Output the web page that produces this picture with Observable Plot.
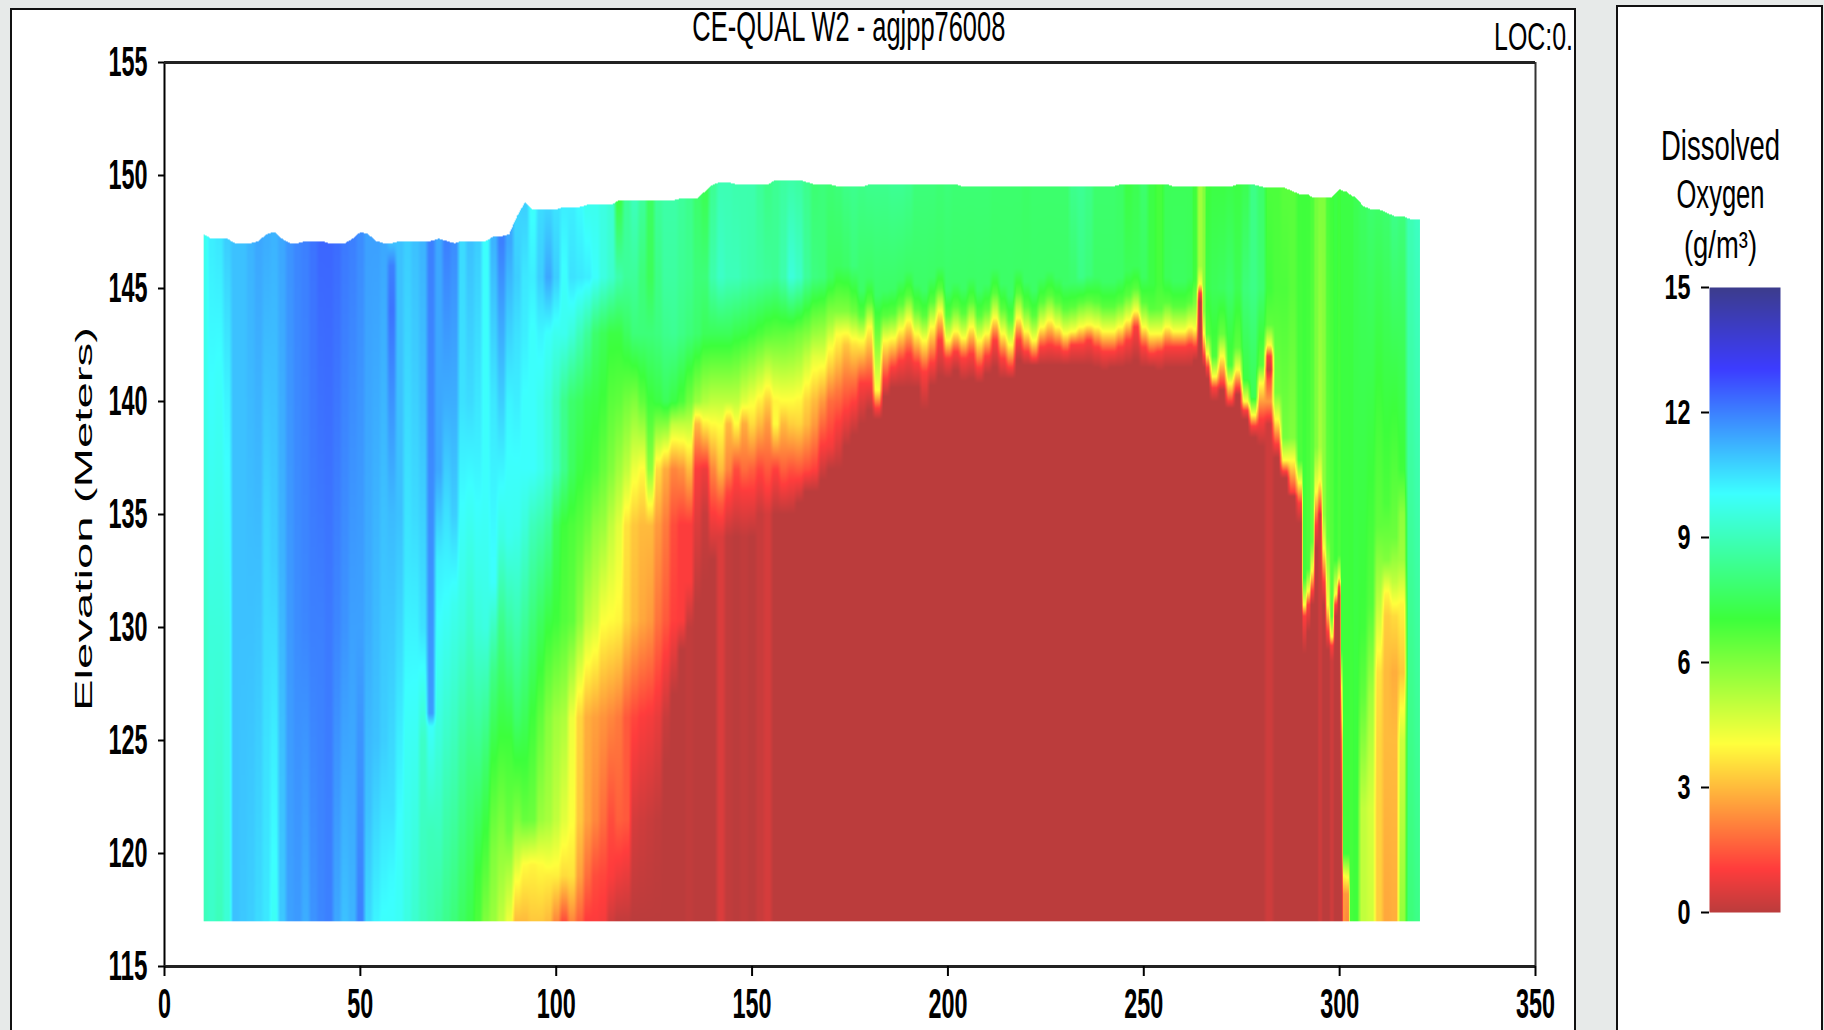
<!DOCTYPE html>
<html>
<head>
<meta charset="utf-8">
<script src="https://cdn.jsdelivr.net/npm/d3@7"></script>
<script src="https://cdn.jsdelivr.net/npm/@observablehq/plot@0.6"></script>
<style>
html,body{margin:0;padding:0;width:1824px;height:1030px;overflow:hidden;background:#e7eae9}
.panel{position:absolute;background:#fff;border:2px solid #111;border-bottom:none;box-sizing:border-box}
#main{left:10px;top:8px;width:1566px;height:1022px}
#side{left:1616px;top:5px;width:207px;height:1025px}
#chart svg,#legend svg{position:absolute;left:0;top:0;background:transparent}
</style>
</head>
<body>
<div class="panel" id="main"></div>
<div class="panel" id="side"></div>
<div id="chart"></div>
<div id="legend"></div>
<script>
// Each row: river km, water-surface elevation, then (elevation, dissolved oxygen) pairs
const blueReach = [
[10,147.4,117,9,130,9.2,140,9.7,147.4,9.8],
[12,147.2,117,9.2,130,9.5,140,10,147,10.3],
[14,147.2,117,9,130,9.5,140,9.9,147,10.4],
[16,147.2,117,9.4,130,9.6,140,10.2,147,10.8],
[18,147,117,11,147,11],
[20,147,117,10.9,130,11,147,11],
[22,147,117,10.8,130,11,147,11.2],
[24,147.1,117,10.6,125,10.8,135,11.1,147,11.4],
[26,147.4,117,10.4,125,10.5,135,10.7,147,11.3],
[28,147.5,117,9.9,121,10.1,125,10.3,133,10.8,147,11.2],
[30,147.2,117,10.9,125,11,133,11.2,147,11.4],
[32,147,117,11.5,130,11.6,147,11.7],
[34,147,117,11.6,130,11.8,147,11.9],
[36,147.1,117,11.3,130,11.9,147,12],
[38,147.1,117,11.7,130,12,147,12.2],
[40,147.1,117,11.9,130,12,147,12.4],
[42,147,117,12,130,12.1,147,12.4],
[44,147,117,11.4,130,11.9,147,12.3],
[46,147,117,11,130,11.7,147,12.1],
[48,147.2,117,11.2,130,11.5,147,12],
[50,147.5,117,12,122,11.8,130,11.5,147,11.8],
[52,147.4,117,10.6,122,11,130,11.3,147,11.5],
[54,147.1,117,10.2,125,11,135,11.2,147,11.5],
[56,147,117,10,125,10.8,135,11,147,11.4],
[58,147,117,10,119,10.1,122,10.5,135,11.1,144,12.2,146,12,147,11],
[60,147.1,117,9.9,121,10,135,11,147,11],
[62,147.1,117,9.6,125,9.9,133,10.4,147,10.8],
[64,147.1,117,9.3,127,10,135,10.6,147,11],
[66,147.1,117,9,125,9.2,130,10.5,140,11,147,11.2],
[68,147.1,117,8.8,121,9,125.6,10,126.2,11.6,135,11.8,147,12],
[70,147.2,117,8.6,125,9.5,133,10.3,137,11.4,147,11.4],
[72,147.1,117,8.3,122,8.8,128,9.6,135,10.5,140,11.3,147,12],
[74,147,117,8,125,9,131,9.8,135,10.8,140,11.3,147,11.8],
[76,147.1,117,7.6,125,8.6,130,9.5,136,10.1,140,10.5,147,10.6],
[78,147.1,117,7.3,124,8.2,130,9.2,136,10,140,10.6,147,11],
[80,147.1,117,6.8,119,7,124,8.2,130,9.5,138,10.3,147,10.8],
[82,147.1,117,6,120,6.8,124,7.8,130,9.6,136,10,147,10],
[84,147.3,117,5.6,120,6,124,7,128,8.2,132,10,140,10.4,147,11.2],
[86,147.3,117,5,120,5.7,125,7,130,8.2,134,9.6,140,10.8,147,12],
[88,147.4,117,4.3,119,5.2,121,6.3,125,7,128,8,134,9.8,140,10.2,147,11.4]
];
const transitionReach = [
[90,148.2,117,3,119,4.2,121.5,6,126,7.8,130.3,8.9,134.5,9.8,137,10,140,10.3,143,10.5,145.5,10.8,148.2,10.7],
[92,148.8,117,3,119.5,4,121.5,6.4,126,7.5,130.3,8.5,134.5,9.5,137,10,140,10,143,10.3,145.5,10.4,148.8,10.8],
[94,148.5,117,3.2,119.5,3.9,121.5,6.3,126,7,130.3,8,134.5,9,137,10,140,10,143,10,145.5,10.3,148.5,10],
[96,148.5,117,3.2,119.5,4,121.5,5.6,126,6.5,130.3,7.6,134.5,8.8,137,9.8,140,9.8,143,10.2,145.5,10.8,148.5,10.6],
[98,148.5,117,3,119,3.8,121.5,5.4,126,5.9,130.3,7.2,134.5,8.5,137,9.5,140,9.5,143,10,145.5,11.4,148.5,10.7],
[100,148.5,117,2.2,119,3.8,121.5,5,126,5.5,130.3,7,134.5,7.5,137,9,140,9,143,9.8,145.5,10.8,148.5,10.5],
[102,148.6,117,1.3,119,3.5,121.5,4.5,126,5.3,130.3,6.7,134.5,7,137,8.3,140,8.3,143,9.8,145.5,10,148.6,10.3],
[104,148.6,117,2.2,119,3.6,121.5,4.1,126,4.3,130.3,6.5,134.5,6.8,137,7.6,140,7.8,143,9.5,145.5,10.5,148.6,10.3],
[106,148.6,117,1.6,119,2.6,121.5,3.2,126,3.4,130.3,5.8,134.5,6.6,137,7.2,140,7.6,143,9,145.5,10.4,148.6,10.1],
[108,148.7,117,1,119,1.8,121.5,2.6,126,2.8,130.3,5,134.5,6.3,137,7,140,7.3,143,8.5,145.5,10.3,148.7,9.8],
[110,148.7,117,1,119,1.3,121.5,2.2,126,2.6,130.3,4.7,134.5,5.8,137,6.8,140,7.2,143,7.8,145.5,10,148.7,9.8],
[112,148.7,117,0.9,119,1.2,121.5,1.8,126,2.4,130.3,4.1,134.5,5.6,137,6.4,140,7,143,7.5,145.5,9.6,148.7,9.6],
[114,148.7,117,0.3,119,1,121.5,1.3,126,2.2,130.3,4,134.5,5,137,6,140,6.6,143,7.2,145.5,9.3,148.7,9.4],
[116,148.9,117,0.1,119,0.8,121.5,1.6,126,2,130.3,3.9,134.5,4.5,137,5.5,140,6.5,143,7.2,145.5,8.8,148.9,7.2],
[118,148.9,117,0.1,119,0.7,121.5,1.5,126,1.5,130.3,3.4,134.5,3.6,137,5,140,6.2,143,7.6,145.5,8.5,148.9,8.5],
[120,148.9,117,0,121.5,0.4,126,1.2,130.3,3,134.5,3.2,137,4.3,140,6,143,8,145.5,8.5,148.9,9],
[122,148.9,117,0,121.5,0.3,126,1,130.3,2.7,134.5,3,137,4,140,6.5,143,8,145.5,8,148.9,8.5],
[124,148.9,117,0,121.5,0.2,126,0.9,130.3,2.5,134.5,3,137,5.8,140,7,143,8,145.5,7.5,148.9,7.6],
[126,148.9,117,0,121.5,0.1,126,0.7,130.3,1.9,134.5,2.5,137,3.5,140,7.2,143,8.1,145.5,8.2,148.9,8.5],
[128,148.9,124,0,126,0.2,130.3,1.5,134.5,2,137,2.8,140,7.5,143,8.3,145.5,8.6,148.9,8.7],
[130,148.9,127,0,130.3,1.1,134.5,1.3,137,2.2,139,5,140,7.2,143,8.4,145.5,8.6,148.9,8.7],
[132,149,129,0,130.3,1,134.5,1,137,2.4,139,5,140,6.8,143,8.2,145.5,8.4,149,8.5],
[134,149,130,0.1,132,1,134.5,1,137,3,139,5,140,6.2,143,8,145.5,8.3,149,8.3],
[136,149,131,0,134.5,0.5,137,1,139,3,140,5.6,143,7.8,145.5,8,149,7.8],
[138,149.3,132,0,135,0.2,137,0.8,139,3.8,140,5.2,143,7.5,145.5,8,149.3,7.4],
[140,149.6,133,0,135,1,137,2.2,139,4,140,5,143,7.5,145.5,8.8,149.6,8.4],
[142,149.7,134,0.5,135.5,1.5,137,3,139,4.1,140,5,143,7.5,145.5,9.2,149.7,8.9],
[144,149.7,134,0.1,136,1.2,137,2.2,139,3,140,5,143,7.5,145.5,9,149.7,8.9],
[146,149.6,134,0,136,0.9,137,1.3,139,4,140,5,143,7.3,145.5,9,149.6,8.8],
[148,149.6,134,0.1,136,1,137,1.8,139,2.8,140,4.5,143,7.2,145.5,8.8,149.6,8.8],
[150,149.6,134,0,136,1,137,1.6,139,3.5,140,4.2,143,7,145.5,8.7,149.6,8.8],
[152,149.6,135,0.2,137,1.2,139,3,140,3.8,143,6.8,145.5,8.6,149.6,8.5],
[154,149.6,135,0.4,136,1,137,1.5,139,2.5,140,3.3,143,6.6,145.5,8.5,149.6,8.2],
[156,149.8,135,0,137,1.1,139,4,140,3.9,143,6.5,145.5,8.4,149.8,8.4],
[158,149.8,135,0,137,1.6,139,3,140,4,143,6.5,145.5,8.8,149.8,8.6],
[160,149.8,135,0,137,1.4,139,3.3,140,4,143,6.4,145.5,9.5,149.8,8.7],
[162,149.8,135.5,0,137,1.5,139,3.4,140,3.9,143,6.2,145.5,9.2,149.8,8.6],
[164,149.7,136,0,137,1.3,139,3,140,3.4,142,5,143,6,145.5,8.5,149.7,8.3],
[166,149.6,136,0,137,1.1,139,2.5,140,3,142,4.5,143,5.6,145.5,8.1,149.6,7.9],
[168,149.6,136.5,0,138,1,140,2.5,141.5,4,143,5.5,145.5,8,149.6,8],
[170,149.6,137,0,138,0.9,140,1.8,141.5,3.3,142.5,4.2,143.5,5.5,145.5,7.6,149.6,7.9],
[172,149.5,137,0,139,1,140.5,2,142,3.3,143,4.1,144,6,146,7.6,149.5,8],
[174,149.5,138,0,139.5,1,141,2,142.5,3.2,143,4,144,6,146,7.7,149.5,8.2],
[176,149.5,138.5,0,140,1.1,141,2,142.5,3.6,143,4.4,144,6.3,146,8,149.5,8.3]
];
const anoxicReach = [
[178,149.5,139,0,140.8,1.05,142.7,4.05,143.8,6.6,144.9,7.7,149.5,8.2],
[180,149.6,139.6,0,140.8,1.05,143.3,4.05,144.4,6.6,145.5,7.7,149.6,8.3],
[182,149.6,139.2,0,139.7,1.05,140.5,4.05,143,6.3,144.7,7.7,149.6,8.3],
[184,149.6,140.2,0,141,1.05,142.7,4.05,143.8,6.6,144.9,7.7,149.6,8.3],
[186,149.6,140.6,0,141.5,1.05,142.8,4.05,143.9,6.6,145,7.7,149.6,8.4],
[188,149.6,140.6,0,141.8,1.05,143.2,4.05,144.3,6.6,145.4,7.7,149.6,8.4],
[190,149.6,140.6,0,142.1,1.05,143.6,4.05,144.7,6.6,145.8,7.7,149.6,8.3],
[192,149.6,140.6,0,141.7,1.05,143,4.05,144.1,6.6,145.2,7.7,149.6,8],
[194,149.6,139.6,0,141.3,1.05,142.7,4.05,143.8,6.6,144.9,7.7,149.6,8],
[196,149.6,140.7,0,141.7,1.05,143.3,4.05,144.4,6.6,145.5,7.7,149.6,8],
[198,149.6,141.1,0,142.7,1.05,144,4.05,145,6.6,146,7.7,149.6,7.9],
[200,149.6,141,0,141.9,1.05,142.7,4.05,143.8,6.6,144.9,7.7,149.6,8],
[202,149.6,141.35,0,142.2,1.05,143.1,4.05,144.2,6.6,145.3,7.7,149.6,7.9],
[204,149.5,140.9,0,141.9,1.05,142.8,4.05,143.9,6.6,145,7.7,149.5,7.9],
[206,149.5,141,0,142.1,1.05,143.3,4.05,144.4,6.6,145.5,7.7,149.5,7.9],
[208,149.5,140.8,0,141.5,1.05,142.7,4.05,143.8,6.6,144.9,7.7,149.5,7.9],
[210,149.5,141.2,0,142,1.05,143,4.05,144.1,6.6,145.2,7.7,149.5,7.9],
[212,149.5,141.5,0,142.7,1.05,143.7,4.05,144.8,6.6,145.9,7.7,149.5,7.8],
[214,149.5,141,0,141.9,1.05,143,4.05,144.1,6.6,145.2,7.7,149.5,7.8],
[216,149.5,141,0,141.5,1.05,142.5,4.05,143.6,6.6,144.7,7.7,149.5,7.8],
[218,149.5,141.8,0,142.7,1.05,143.7,4.05,144.8,6.6,145.9,7.7,149.5,7.8],
[220,149.5,141.6,0,142.2,1.05,143.1,4.05,144.2,6.6,145.3,7.7,149.5,7.7],
[222,149.5,141.6,0,141.9,1.05,142.7,4.05,143.8,6.6,144.9,7.7,149.5,7.8],
[224,149.5,141.6,0,142.4,1.05,143.3,4.05,144.4,6.6,145.5,7.7,149.5,7.8],
[226,149.5,141.6,0,142.5,1.05,143.6,4.05,144.7,6.6,145.8,7.7,149.5,7.8],
[228,149.5,141.6,0,142.4,1.05,143.3,4.05,144.4,6.6,145.5,7.7,149.5,7.8],
[230,149.5,141.6,0,142.2,1.05,143,4.05,144.1,6.6,145.2,7.7,149.5,7.8],
[232,149.5,141.6,0,142.5,1.05,143.1,4.05,144.2,6.6,145.3,7.8,149.5,8.3],
[234,149.5,141.6,0,142.5,1.05,143.3,4.05,144.4,6.6,145.5,8.2,149.5,8.4],
[236,149.5,141.6,0,142.7,1.05,143.4,4.05,144.5,6.6,145.6,8,149.5,8.2],
[238,149.5,141.5,0,142.4,1.05,143.3,4.05,144.4,6.6,145.5,7.7,149.5,7.8],
[240,149.5,141.35,0,142.2,1.05,143.1,4.05,144.2,6.6,145.3,7.7,149.5,7.8],
[242,149.5,141.5,0,142.2,1.05,143.1,4.05,144.2,6.6,145.3,7.7,149.5,7.8],
[244,149.6,141.5,0,142.4,1.05,143.3,4.05,144.4,6.6,145.5,7.7,149.6,7.7],
[246,149.6,141.6,0,142.7,1.05,143.6,4.05,144.7,6.6,145.8,7.5,149.6,7.2],
[248,149.6,141.8,0,143.3,1.05,144,4.05,145,6.6,146,7.5,149.6,7.4],
[250,149.6,141.5,0,142.4,1.05,143.3,4.05,144.4,6.6,145.5,7.6,149.6,7.8],
[252,149.6,141.5,0,142.1,1.05,143,4.05,144.1,6.6,145.2,7.2,149.6,7.2],
[254,149.6,141.35,0,142.2,1.05,143,4.05,144.1,6.5,145.2,6.9,149.6,6.9],
[256,149.6,141.5,0,142.4,1.05,143.3,4.05,144.4,6.6,145.5,7.5,149.6,7.5],
[258,149.5,141.5,0,142.4,1.05,143.1,4.05,144.2,6.6,145.3,7.6,149.5,7.5],
[260,149.5,141.5,0,142.4,1.05,143.1,4.05,144.2,6.6,145.3,7.6,149.5,7.5],
[262,149.5,141.5,0,142.5,1.05,143.3,4.05,144.4,6.6,145.5,7.5,149.5,7.5],
[263,149.5,141.8,0,142.4,1.05,143.2,4.05,144.3,6,145.4,7,149.5,7],
[264.4,149.5,144.4,0,144.8,1.05,145.2,4.05,146,5.5,149.5,5.5],
[265.5,149.5,141.5,0,142,1.05,143,4.05,144,5.8,149.5,6]
];
const downstreamReach = [
[266,149.5,141,0,141.5,1.05,142.1,4.05,143,6.6,145,7.3,149.5,7],
[268,149.5,140,0,140.6,1.05,141.1,4.05,142,6.8,145,7.5,149.5,7.2],
[270,149.5,140.5,0,140.8,1.05,142,4.05,143,6.4,145,7.6,149.5,7.2],
[272,149.5,139.7,0,140,1.05,140.8,4.05,141.6,6.8,145,7.8,149.5,7.3],
[274,149.6,140.3,0,140.6,1.05,141.4,4.05,142.4,6.5,145,7.4,149.6,7.2],
[276,149.6,139.2,0,139.6,1.05,140,4.05,141,7.2,145,8,149.6,7.4],
[278,149.6,138.4,0,138.9,1.05,139.4,4.05,140.2,7.4,145,8.2,149.6,8.2],
[280,149.5,138,0,139.2,1.05,140.8,4.05,141.6,6.6,145,7.9,149.5,7.8],
[282,149.45,139,0.3,140,2.5,141,1.3,141.4,0.3,142,1.05,142.5,4.05,143.4,6.5,145,7,149.45,6.8],
[284,149.45,137.5,0,138.1,1.05,139.2,4.05,140.4,6.2,145,6.8,149.45,6.8],
[286,149.45,136.6,0,136.9,1.05,137.4,4.05,138.4,6.2,145,6.8,149.45,6.6],
[288,149.3,135.8,0,136,1.05,137.4,4.05,138.4,6,145,6.6,149.3,6.6],
[290,149.15,134.6,0,135.5,1.05,136.4,4.05,137.4,6.8,149.15,7],
[291,149.15,128.8,0,130.5,1.05,131,4.05,132.2,7,149.15,7],
[292,149.15,129.8,0,131,1.05,131.6,4.05,132.6,6.8,149.15,7],
[293,149.04,131,0,131.6,1.05,132.5,4.05,133.8,6.5,149.04,6.8],
[294,149.04,133.5,0,134.5,1.05,136,4.05,138,6,149.04,6.2],
[295,149.04,135,0.3,135.2,1.05,136.5,4.05,138,5.4,149.04,6],
[296,149.04,131,0,132,1.05,133.5,4.05,135,5.8,149.04,6],
[297,149.04,129,0,129.8,1.05,131,4.05,134,6.5,149.04,6.8],
[298,149.04,128.5,0.3,129.2,1.05,129.6,4.05,130.5,6.6,149.04,7],
[299,149.2,130.5,0,131,1.05,131.5,4.05,133,7,149.2,7.2],
[300,149.4,131.4,0,131.8,1.05,132.2,4.05,133.2,6.8,149.4,7],
[300.5,149.35,117,0,122,0.2,125,1.5,127.3,4,129,7,149.35,7.2],
[301,149.3,117,2.4,118.2,2.5,119,4,120,7,149.3,7.2],
[302,149.26,117,2.2,118.2,2.5,119,4.2,120,7,149.26,7.2],
[303,149.1,117,6.9,149.1,7.2],
[304,149.04,117,7,149.04,7.4],
[306,148.65,117,5,122,5,127,6.5,130,7,148.65,7.6],
[308,148.5,117,4.8,122,4.7,127,5.5,131,6.7,148.5,7.8],
[310,148.5,117,3.3,125,3.4,128,3.6,131,5,134.5,6.5,148.5,7.7],
[312,148.35,117,2.7,125,3,128,3,130.5,3.3,131.5,3.9,133,6,135.5,6.8,148.35,7.8],
[314,148.2,117,2.8,125,3,128,2.8,130.5,3.5,132,5,134,6.3,148.2,8.2],
[316,148.2,117,5.7,125,4.8,128,3.2,131,3.9,133,5.5,135,5.8,137,7,148.2,8],
[318,148.07,117,8,148.07,8.9],
[320,148.07,117,8.2,148.07,9.1]
];
const xTicks = [0,50,100,150,200,250,300,350];
const yTicks = [115,120,125,130,135,140,145,150,155];
const legendTicks = [0,3,6,9,12,15];
const colorStops = [0,1.05,4.05,7.05,10.05,13.05,15];
const colorRange = ["#bb3c3c","#ff3c3c","#ffff3c","#3cff3c","#3cffff","#3c3cff","#3c3c8c"];
const chartNotes = [
  {text:"CE-QUAL W2 - agjpp76008", x:174.7, y:156.57, size:43, weight:400, anchor:"middle", rotate:0, len:313},
  {text:"LOC:0.", x:349.5, y:156.1, size:39, weight:400, anchor:"end", rotate:0, len:79},
  {text:"Elevation (Meters)", x:-20.4, y:134.8, size:24, weight:700, anchor:"middle", rotate:-90, len:384}
];
const legendNotes = [
  {text:"Dissolved", y:18.38, size:42, len:119},
  {text:"Oxygen", y:17.22, size:40, len:88},
  {text:"(g/m³)", y:16.0, size:38, len:73}
];

const columns = [...blueReach,...transitionReach,...anoxicReach,...downstreamReach];
const colX = columns.map(c=>c[0]);
function profile(c,e){
  if(e<=c[2]) return c[3];
  for(let i=4;i<c.length;i+=2){
    if(e<=c[i]){
      const t=(e-c[i-2])/(c[i]-c[i-2]);
      return c[i-1]+(c[i+1]-c[i-1])*t;
    }
  }
  return c[c.length-1];
}
function sampleDO(x,e){
  let j=d3.bisectRight(colX,x);
  const a=columns[Math.max(0,j-1)], b=columns[Math.min(columns.length-1,j)];
  let t=a===b?0:(x-a[0])/(b[0]-a[0]);
  const surf=a[1]+(b[1]-a[1])*t;
  if(e>surf) return NaN;
  t=Math.max(0,Math.min(1,(t-0.25)/0.5));
  return profile(a,e)+(profile(b,e)-profile(a,e))*t;
}
const colorScale={type:"linear",domain:colorStops,range:colorRange,interpolate:"rgb",clamp:true};
const fam='"Liberation Sans",Arial,sans-serif';

const chart=Plot.plot({
  width:1824,height:1030,marginLeft:164,marginRight:289,marginTop:62,marginBottom:64,
  style:{fontFamily:fam,background:"transparent",overflow:"visible"},
  x:{domain:[0,350]},y:{domain:[115,155]},color:colorScale,
  marks:[
    Plot.raster({fill:sampleDO,x1:10,x2:320.5,y1:117,y2:150,pixelSize:1}),
    Plot.ruleX([0],{stroke:"#000",strokeWidth:2}),
    Plot.ruleX([350],{stroke:"#333",strokeWidth:2}),
    Plot.ruleY([155],{stroke:"#222",strokeWidth:3}),
    Plot.ruleY([115],{stroke:"#222",strokeWidth:3}),
    Plot.axisX({ticks:xTicks,tickFormat:d=>d,tickSize:10,tickPadding:11,label:null,fontSize:43,fontWeight:700,stroke:"#000",strokeWidth:2,anchor:"bottom"}),
    Plot.axisY({ticks:yTicks,tickFormat:d=>d,tickSize:6,tickPadding:11,label:null,fontSize:43,fontWeight:700,stroke:"#000",strokeWidth:2,anchor:"left"}),
    Plot.text(chartNotes,{x:"x",y:"y",text:"text",fontSize:"size",fontWeight:d=>d.weight,textAnchor:d=>d.anchor,rotate:"rotate",fill:"#000",lineAnchor:"middle"})
  ]
});
document.getElementById("chart").append(chart);

const legend=Plot.plot({
  width:1824,height:1030,marginLeft:1709,marginRight:44,marginTop:287,marginBottom:118,
  style:{fontFamily:fam,background:"transparent",overflow:"visible"},
  x:{domain:[0,1],axis:null},y:{domain:[0,15]},color:colorScale,
  marks:[
    Plot.raster({fill:(x,y)=>y,x1:0,x2:1,y1:0,y2:15,pixelSize:1}),
    Plot.axisY({ticks:legendTicks,tickFormat:d=>d,tickSize:8,tickPadding:11,label:null,fontSize:35,fontWeight:700,stroke:"#000",strokeWidth:2,anchor:"left"}),
    Plot.text(legendNotes,{x:()=>0.155,y:"y",text:"text",fontSize:"size",fill:"#000",lineAnchor:"middle"})
  ]
});
document.getElementById("legend").append(legend);

// compressed glyph widths of the original bitmap fonts
const lengths=new Map([...chartNotes,...legendNotes].map(n=>[n.text,n.len]));
for(const svg of [chart,legend]){
  svg.querySelectorAll("text").forEach(t=>{
    const s=t.textContent.trim();
    const len=lengths.get(s) ?? (/^\d+$/.test(s)?s.length*13:null);
    if(len){t.setAttribute("textLength",len);t.setAttribute("lengthAdjust","spacingAndGlyphs");}
  });
}
</script>
</body>
</html>
